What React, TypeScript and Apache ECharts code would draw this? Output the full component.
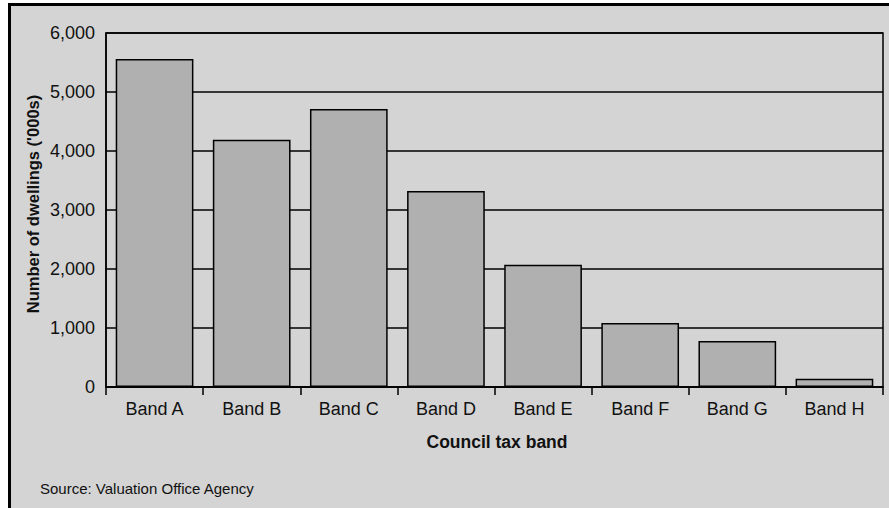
import React, { useEffect, useRef } from "react";
import * as echarts from "echarts";

const categories = ["Band A", "Band B", "Band C", "Band D", "Band E", "Band F", "Band G", "Band H"];
const dwellings = [5560, 4190, 4710, 3320, 2070, 1085, 780, 140];
const yTicks = { min: 0, max: 6000, interval: 1000 };
const yAxisTitle = "Number of dwellings ('000s)";
const xAxisTitle = "Council tax band";
const sourceNote = "Source: Valuation Office Agency";

const FONT = "'Liberation Sans', Arial, Helvetica, sans-serif";

export default function App() {
  const ref = useRef<HTMLDivElement>(null);
  useEffect(() => {
    if (!ref.current) return;
    const chart = echarts.init(ref.current, undefined, { renderer: "svg" });
    chart.setOption({
      animation: false,
      backgroundColor: "#ffffff",
      grid: {
        left: 106,
        right: 6,
        top: 33,
        bottom: 121,
        show: true,
        backgroundColor: "transparent",
        borderColor: "#000",
        borderWidth: 1.5,
        containLabel: false,
      },
      xAxis: {
        type: "category",
        data: categories,
        axisLine: { show: true, lineStyle: { color: "#000", width: 1.5 } },
        axisTick: { show: true, length: 8, lineStyle: { color: "#000", width: 1.5 } },
        axisLabel: { color: "#111", fontFamily: FONT, fontSize: 18, margin: 13 },
      },
      yAxis: {
        type: "value",
        min: yTicks.min,
        max: yTicks.max,
        interval: yTicks.interval,
        axisLine: { show: true, lineStyle: { color: "#000", width: 1.5 } },
        axisTick: { show: false },
        axisLabel: {
          color: "#111",
          fontFamily: FONT,
          fontSize: 18,
          margin: 11,
          formatter: (v: number) => v.toLocaleString("en-US"),
        },
        splitLine: { show: true, lineStyle: { color: "#000", width: 1.5 } },
      },
      series: [
        {
          type: "bar",
          data: dwellings,
          barCategoryGap: "20%",
          itemStyle: { color: "#b0b0b0", borderColor: "#000", borderWidth: 1.5 },
        },
      ],
      graphic: [
        {
          type: "rect",
          z: -10,
          shape: { x: 9.5, y: 4.5, width: 1000, height: 700 },
          style: { fill: "#d4d4d4", stroke: "#000", lineWidth: 3 },
          silent: true,
        },
        {
          type: "text",
          x: 33,
          y: 204,
          rotation: Math.PI / 2,
          style: {
            text: yAxisTitle,
            align: "center",
            verticalAlign: "middle",
            font: `bold 16.5px ${FONT}`,
            fill: "#111",
          },
        },
        {
          type: "text",
          x: 497,
          y: 442,
          style: {
            text: xAxisTitle,
            align: "center",
            verticalAlign: "middle",
            font: `bold 17.5px ${FONT}`,
            fill: "#111",
          },
        },
        {
          type: "text",
          x: 40,
          y: 488,
          style: {
            text: sourceNote,
            align: "left",
            verticalAlign: "middle",
            font: `15px ${FONT}`,
            fill: "#111",
          },
        },
      ],
    });
    return () => chart.dispose();
  }, []);
  return (
    <div
      ref={ref}
      style={{ position: "fixed", left: 0, top: 0, width: 889, height: 508 }}
    />
  );
}
